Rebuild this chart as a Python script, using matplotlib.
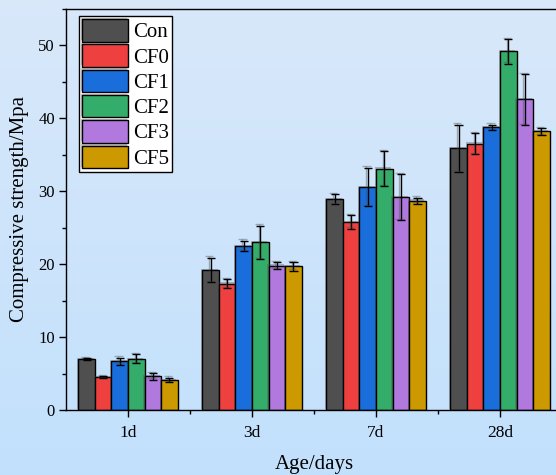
import numpy as np
import matplotlib
matplotlib.use("Agg")
import matplotlib.pyplot as plt
from matplotlib import patheffects as pe
from matplotlib.ticker import MultipleLocator, FixedLocator

# Compressive strength (MPa) by curing age
ages = ["1d", "3d", "7d", "28d"]
series = ["Con", "CF0", "CF1", "CF2", "CF3", "CF5"]

con = [7.0, 19.2, 28.9, 35.9]
cf0 = [4.5, 17.3, 25.8, 36.5]
cf1 = [6.7, 22.5, 30.6, 38.8]
cf2 = [7.0, 23.0, 33.1, 49.2]
cf3 = [4.6, 19.8, 29.2, 42.6]
cf5 = [4.1, 19.7, 28.7, 38.2]

con_err = [0.10, 1.70, 0.70, 3.25]
cf0_err = [0.10, 0.60, 0.93, 1.45]
cf1_err = [0.48, 0.70, 2.65, 0.34]
cf2_err = [0.62, 2.28, 2.42, 1.70]
cf3_err = [0.43, 0.48, 3.15, 3.50]
cf5_err = [0.32, 0.60, 0.43, 0.48]

values = [con, cf0, cf1, cf2, cf3, cf5]
errors = [con_err, cf0_err, cf1_err, cf2_err, cf3_err, cf5_err]
colors = ["#4f4f4f", "#ef4040", "#1a6edb", "#35ad6a", "#b179de", "#cc9900"]

plt.rcParams["font.family"] = ["Liberation Serif", "DejaVu Serif"]
plt.rcParams["mathtext.fontset"] = "stix"

fig = plt.figure(figsize=(5.56, 4.75), dpi=100)

# soft vertical gradient behind everything
bg = fig.add_axes([0, 0, 1, 1], zorder=-10)
top_c = np.array([0.85, 0.91, 0.98])
bot_c = np.array([0.76, 0.88, 0.99])
t = np.linspace(0, 1, 256)[:, None]
grad = (top_c * (1 - t) + bot_c * t)[:, None, :]
bg.imshow(grad, aspect="auto", extent=[0, 1, 0, 1])
bg.set_axis_off()

ax = fig.add_axes([66 / 556, 65 / 475, 496 / 556, 401 / 475])
ax.patch.set_alpha(0)

n = len(series)
w = 0.8 / n
x = np.arange(len(ages))
bar_shadow = [pe.SimplePatchShadow(offset=(-1, 1), shadow_rgbFace=(0.3, 0.3, 0.3), alpha=0.35), pe.Normal()]
line_shadow = [pe.SimpleLineShadow(offset=(-1, 1), shadow_color=(0.3, 0.3, 0.3), alpha=0.4), pe.Normal()]

for i, (name, vals, errs, col) in enumerate(zip(series, values, errors, colors)):
    pos = x + (i - (n - 1) / 2) * w
    bars = ax.bar(pos, vals, width=w, color=col, edgecolor="black", linewidth=1.0,
                  label=name, zorder=2)
    for b in bars:
        b.set_path_effects(bar_shadow)
    eb = ax.errorbar(pos, vals, yerr=errs, fmt="none", ecolor="black", elinewidth=1.0,
                     capsize=3, capthick=1.0, zorder=3)
    for part in eb.lines[1] + eb.lines[2]:
        part.set_path_effects(line_shadow)

ax.set_xlim(-0.5, len(ages) - 0.5)
ax.set_ylim(0, 55)

ax.set_xticks(x)
ax.set_xticklabels(ages)
ax.xaxis.set_minor_locator(FixedLocator(np.arange(0.5, len(ages) - 0.5, 1.0)))
ax.yaxis.set_major_locator(MultipleLocator(10))
ax.yaxis.set_minor_locator(MultipleLocator(5))

ax.tick_params(axis="both", which="major", direction="out", length=5, width=1.0,
               labelsize=12, color="black")
ax.tick_params(axis="x", which="major", labelsize=12.5, pad=6)
ax.tick_params(axis="both", which="minor", direction="out", length=3, width=1.0)
ax.tick_params(axis="y", which="major", pad=3)
ax.tick_params(top=False, right=False, which="both")

for s in ax.spines.values():
    s.set_linewidth(1.0)
    s.set_color("black")

ax.set_xlabel("Age/days", fontsize=15, labelpad=10)
ax.set_ylabel("Compressive strength/Mpa", fontsize=15, labelpad=7)

leg = ax.legend(loc="upper left", bbox_to_anchor=(13 / 496, 1 - 7 / 401), borderaxespad=0,
                fontsize=15, frameon=True, fancybox=False, edgecolor="black",
                facecolor="white", framealpha=1, handlelength=2.2, handleheight=1.28,
                labelspacing=0.1, handletextpad=0.25, borderpad=0.15)
leg.get_frame().set_linewidth(1.0)

fig.savefig("out.png", dpi=100)
